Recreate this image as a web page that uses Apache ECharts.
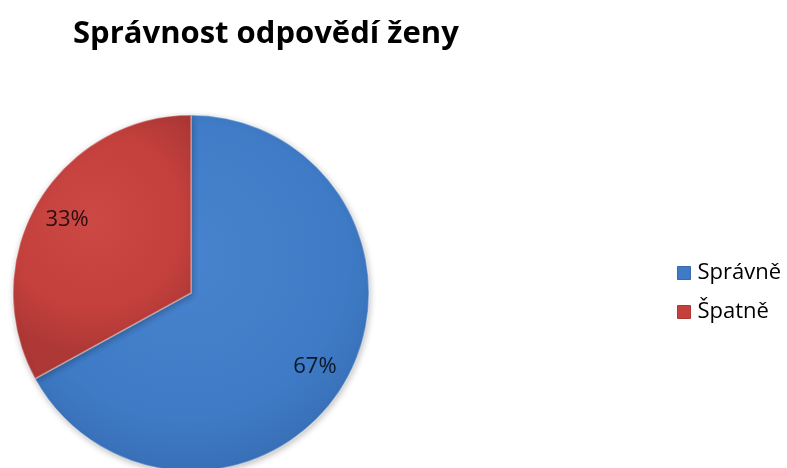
<!DOCTYPE html>
<html>
<head>
<meta charset="utf-8">
<style>
  html, body { margin: 0; padding: 0; background: #ffffff; }
  #chart { width: 787px; height: 468px; }
</style>
<script src="https://cdn.jsdelivr.net/npm/echarts@6/dist/echarts.min.js"></script>
</head>
<body>
<div id="chart"></div>
<script>
// Answer correctness — women
const titleText = 'Správnost odpovědí ženy';
const categories = ['Správně', 'Špatně'];
const values = [67, 33];

const baseColors = ['#3e7ac5', '#c4403d'];
const lightColors = ['#4883ce', '#cc4845'];
const darkColors = ['#3569ad', '#ad3836'];

const FONT = '"Open Sans", "Noto Sans", sans-serif';

function fillFor(i) {
  return new echarts.graphic.RadialGradient(0.45, 0.4, 0.75, [
    { offset: 0, color: lightColors[i] },
    { offset: 0.65, color: baseColors[i] },
    { offset: 1, color: darkColors[i] }
  ]);
}

const pieData = categories.map((name, i) => ({
  name: name,
  value: values[i],
  itemStyle: { color: fillFor(i) }
}));

const labelData = categories.map((name, i) => ({
  name: name,
  value: values[i]
}));

const chart = echarts.init(document.getElementById('chart'), null, { renderer: 'canvas' });

chart.setOption({
  animation: false,
  backgroundColor: '#ffffff',
  title: {
    text: titleText,
    left: 68,
    top: 14,
    textStyle: {
      fontFamily: FONT,
      fontWeight: 'bold',
      fontSize: 31,
      color: '#000000'
    }
  },
  legend: {
    orient: 'vertical',
    left: 672,
    top: 257,
    itemWidth: 13,
    itemHeight: 13,
    itemGap: 17,
    icon: 'rect',
    data: categories.map((name, i) => ({
      name: name,
      itemStyle: { color: baseColors[i], borderColor: darkColors[i], borderWidth: 1 }
    })),
    textStyle: {
      fontFamily: FONT,
      fontSize: 22,
      color: '#000000',
      padding: [0, 0, 0, 2]
    }
  },
  series: [
    {
      type: 'pie',
      center: [191, 293],
      radius: [0, 178],
      startAngle: 90,
      clockwise: true,
      silent: true,
      label: { show: false },
      labelLine: { show: false },
      itemStyle: {
        borderColor: 'rgba(255,255,255,0.35)',
        borderWidth: 1.5,
        shadowBlur: 6,
        shadowColor: 'rgba(0,0,0,0.25)',
        shadowOffsetX: 1,
        shadowOffsetY: 2
      },
      data: pieData
    },
    {
      // transparent ring used only to carry the percentage labels further out
      type: 'pie',
      center: [191, 293],
      radius: [104, 178],
      startAngle: 90,
      clockwise: true,
      silent: true,
      legendHoverLink: false,
      itemStyle: { color: 'rgba(0,0,0,0)', borderWidth: 0 },
      labelLine: { show: false },
      label: {
        show: true,
        position: 'inside',
        formatter: '{d}%',
        fontFamily: FONT,
        fontSize: 22,
        color: 'rgba(0,0,0,0.8)'
      },
      data: labelData
    }
  ]
});
</script>
</body>
</html>
